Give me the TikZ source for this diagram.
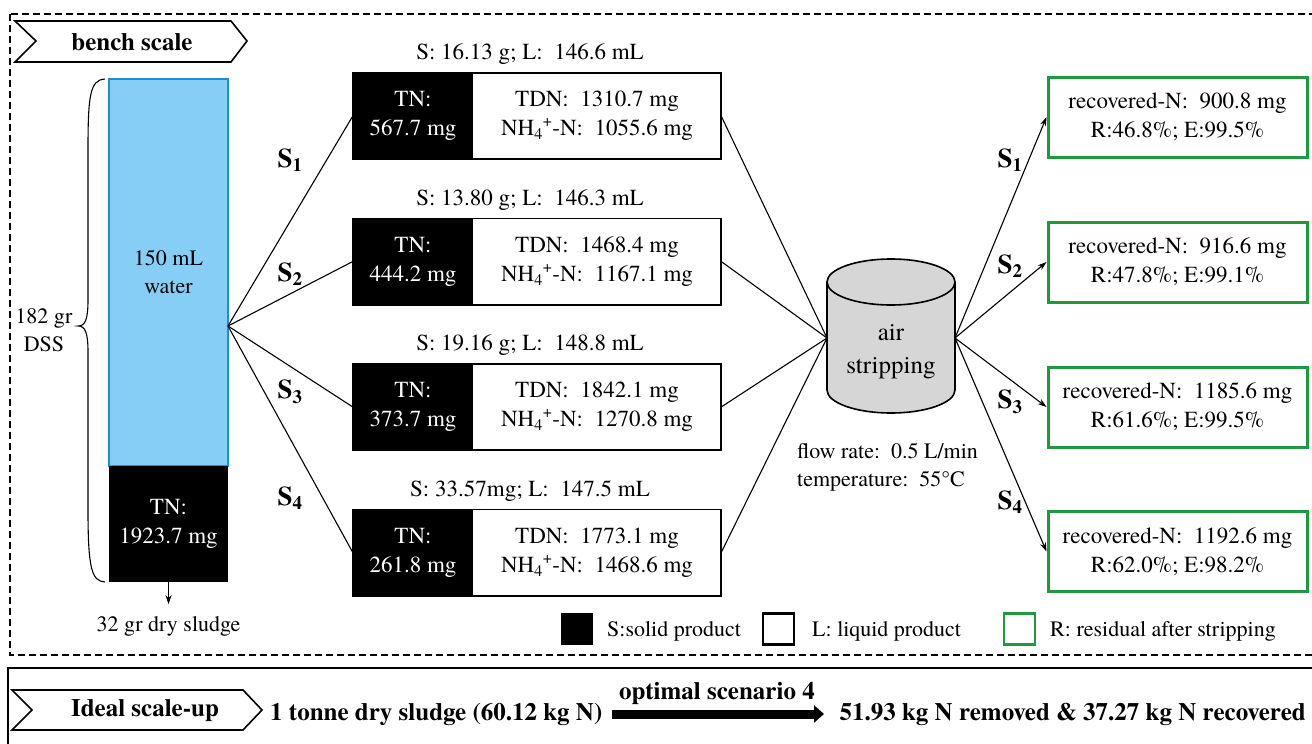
\documentclass[tikz,border=0pt]{standalone}
\usepackage{fontspec}
\setmainfont{texgyretermes}[Extension=.otf, UprightFont=*-regular, BoldFont=*-bold, ItalicFont=*-italic, BoldItalicFont=*-bolditalic]
\newfontfamily\tnr{texgyretermes}[Extension=.otf, UprightFont=*-regular, BoldFont=*-bold, ItalicFont=*-italic, BoldItalicFont=*-bolditalic]
\usetikzlibrary{arrows.meta}
\definecolor{water}{HTML}{87CEF7}
\definecolor{waterline}{HTML}{1E8FD0}
\definecolor{grn}{HTML}{1E9A3C}
\definecolor{cyl}{HTML}{D6D6D6}
\begin{document}
\begin{tikzpicture}[x=1pt,y=-1pt,
  txt/.style={font=\tnr\fontsize{22}{28}\selectfont, inner sep=0pt, align=center},
  ltxt/.style={font=\tnr\fontsize{23}{29}\selectfont, inner sep=0pt, align=center},
  btxt/.style={font=\tnr\fontsize{25}{28}\selectfont\bfseries, inner sep=0pt, align=center},
  slab/.style={font=\tnr\fontsize{27}{28}\selectfont\bfseries, inner sep=0pt},
  solidbox/.style={ltxt, fill=black, text=white, minimum width=120, minimum height=86},
  liqbox/.style={ltxt, minimum width=248, minimum height=86},
  frame/.style={draw=black, line width=1.6pt},
  greenbox/.style={ltxt, draw=grn, line width=3pt, minimum width=259, minimum height=80},
  conn/.style={line width=1.1pt},
  arr/.style={line width=1.1pt, -{Stealth[length=9pt,width=6pt]}},
  chev/.style={draw, line width=1.6pt, fill=white}
]
\useasboundingbox (0,0) rectangle (1312,744);
% outer frames
\draw[line width=1.4pt, dashed, dash pattern=on 7pt off 4pt] (10,14) rectangle (1320,655);
\draw[line width=2pt] (8,668) rectangle (1320,752);

% bench scale chevron
\draw[chev] (15,21) -- (231,21) -- (247,41) -- (231,62) -- (15,62) -- (36,41) -- cycle;
\node[btxt] (bench) at (132,42) {bench scale};

% column
\node[fill=water, draw=waterline, line width=1.2pt, minimum width=119, minimum height=387, inner sep=0pt] (water) at (168.5,272.5) {};
\node[txt] (wtext) at (168.5,272) {150 mL\\water};
\node[solidbox, minimum width=119, minimum height=116] (sludge) at (168.5,524) {TN:\\1923.7 mg};
\coordinate (src) at (228,326);
\draw[line width=1.1pt] (105,79) .. controls (90,80) and (88,95) .. (88,150) -- (88,300) .. controls (88,320) and (85,326) .. (78,326) .. controls (85,326) and (88,332) .. (88,352) -- (88,510) .. controls (88,570) and (92,581) .. (105,582);
\node[txt] (dss) at (44,330) {182 gr\\DSS};
\node[txt, anchor=north] (dry) at (168.5,616) {32 gr dry sludge};
\draw[arr] (sludge.south) -- ++(0,22);

% product boxes
\foreach \i/\y/\s/\tn/\tdn/\nh in {1/116/S: 16.13 g; L:\ \ 146.6 mL/567.7 mg/1310.7 mg/1055.6 mg,
                                 2/261.5/S: 13.80 g; L:\ \ 146.3 mL/444.2 mg/1468.4 mg/1167.1 mg,
                                 3/407/S: 19.16 g; L:\ \ 148.8 mL/373.7 mg/1842.1 mg/1270.8 mg,
                                 4/552.5/S: 33.57mg; L:\ \ 147.5 mL/261.8 mg/1773.1 mg/1468.6 mg}{
  \node[solidbox] (s\i) at (413,\y) {TN:\\\tn};
  \node[liqbox] (l\i) at (597,\y) {TDN:\ \ \tdn\\NH\textsubscript{4}\textsuperscript{+}-N:\ \ \nh};
  \draw[frame] (s\i.north west) rectangle (l\i.south east);
  \node[ltxt, anchor=south] (h\i) at (530,\y-51) {\s};
}

% cylinder
\fill[cyl] (827,282) -- (827,390) arc[start angle=180, end angle=0, x radius=64, y radius=23] -- (955,282) arc[start angle=0, end angle=-180, x radius=64, y radius=23];
\draw[line width=1.6pt] (827,282) -- (827,390) arc[start angle=180, end angle=0, x radius=64, y radius=23] -- (955,282);
\draw[line width=1.6pt] (891,282) ellipse[x radius=64, y radius=23];
\node[txt, font=\tnr\fontsize{25}{33}\selectfont] (cyltext) at (891,352) {air\\stripping};
\coordinate (cylL) at (827,338);
\coordinate (cylR) at (955,338);

\foreach \i in {1,...,4}{
  \draw[conn] (src) -- (s\i.west);
  \draw[conn] (l\i.east) -- (cylL);
}
\node[slab] (S1a) at (290,160) {S\textsubscript{1}};
\node[slab] (S2a) at (290,274) {S\textsubscript{2}};
\node[slab] (S3a) at (290,392) {S\textsubscript{3}};
\node[slab] (S4a) at (290,498) {S\textsubscript{4}};

% recovered boxes
\node[greenbox] (r1) at (1177.5,117) {recovered-N:\ \ 900.8 mg\\R:46.8\%; E:99.5\%};
\node[greenbox] (r2) at (1177.5,262) {recovered-N:\ \ 916.6 mg\\R:47.8\%; E:99.1\%};
\node[greenbox] (r3) at (1177.5,407) {recovered-N:\ \ 1185.6 mg\\R:61.6\%; E:99.5\%};
\node[greenbox] (r4) at (1177.5,551.5) {recovered-N:\ \ 1192.6 mg\\R:62.0\%; E:98.2\%};
\foreach \i in {1,...,4}{ \draw[arr] (cylR) -- (r\i.west); }
\node[slab] (S1b) at (1010,160) {S\textsubscript{1}};
\node[slab] (S2b) at (1010,266) {S\textsubscript{2}};
\node[slab] (S3b) at (1010,402) {S\textsubscript{3}};
\node[slab] (S4b) at (1010,502) {S\textsubscript{4}};

\node[txt, anchor=west, align=left] (flow) at (797,467) {flow rate:\ \ 0.5 L/min\\temperature:\ \ 55°C};

% legend
\node[fill=black, minimum width=32, minimum height=32, inner sep=0pt] (legS) at (576.5,629) {};
\node[txt, anchor=west] (legSt) at (607,631) {S:solid product};
\node[draw, line width=2.2pt, minimum width=31, minimum height=31, inner sep=0pt] (legL) at (778.5,629) {};
\node[txt, anchor=west] (legLt) at (812,631) {L:\ liquid product};
\node[draw=grn, line width=2.2pt, minimum width=31, minimum height=31, inner sep=0pt] (legR) at (1019.5,629) {};
\node[txt, anchor=west] (legRt) at (1050,631) {R:\ residual after stripping};

% scale-up
\draw[chev] (12,690) -- (243,690) -- (262,710) -- (243,730) -- (12,730) -- (32,710) -- cycle;
\node[btxt] (ideal) at (145,711) {Ideal scale-up};
\node[btxt, anchor=west] (tonne) at (270,714) {1 tonne dry sludge (60.12 kg N)};
\node[btxt, anchor=east] (result) at (1306,714) {51.93 kg N removed \& 37.27 kg N recovered};
\coordinate (arrS) at (612,714);
\coordinate (arrE) at (824,714);
\draw[line width=9pt, -{Triangle[length=10pt,width=17pt]}] (arrS) -- (arrE);
\node[btxt, anchor=south] (opt) at (717,705) {optimal scenario 4};
\end{tikzpicture}
\end{document}
